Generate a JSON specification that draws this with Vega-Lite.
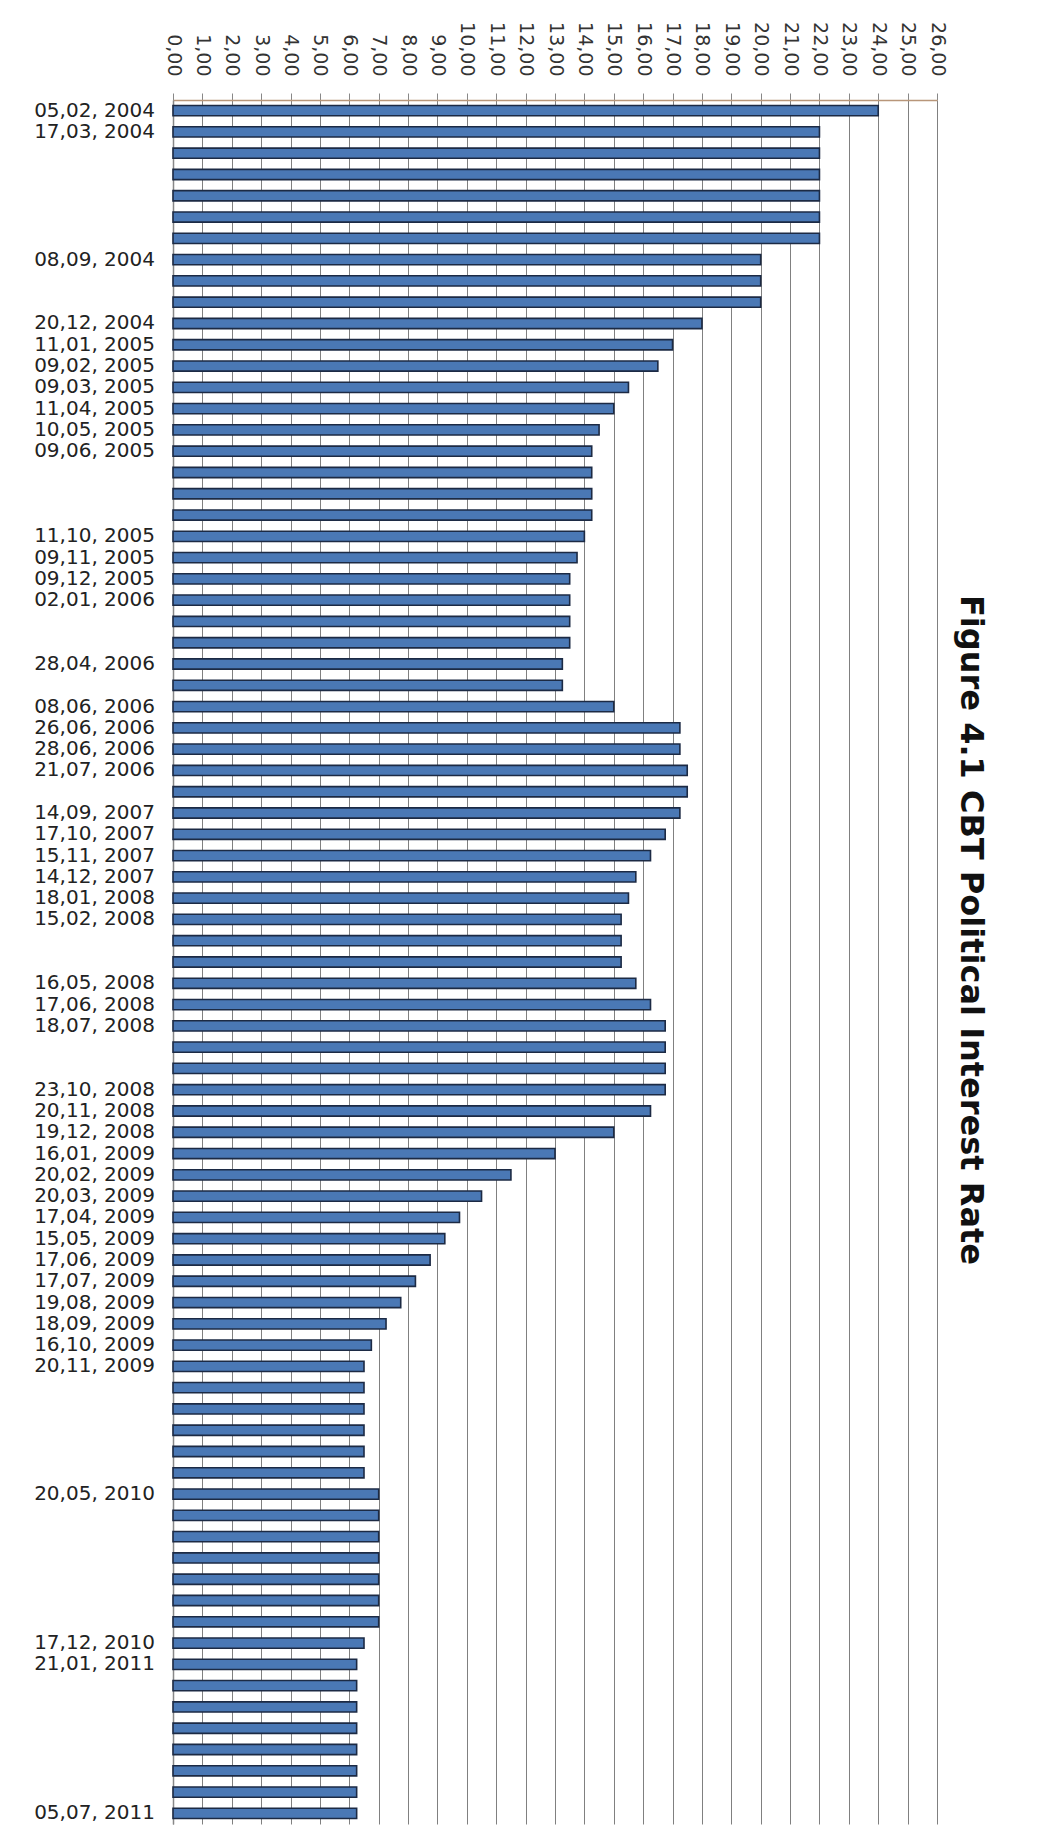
{
  "$schema": "https://vega.github.io/schema/vega-lite/v6.json",
  "width": 764,
  "height": 1724,
  "autosize": {"type": "none"},
  "padding": {"left": 173, "top": 100, "right": 117, "bottom": 21},
  "background": "white",
  "title": {
    "text": "Figure 4.1 CBT Political Interest Rate",
    "orient": "right",
    "anchor": "middle",
    "angle": 90,
    "font": "DejaVu Sans",
    "fontSize": 32,
    "fontWeight": "bold",
    "color": "#111111",
    "offset": 8,
    "dx": -32
  },
  "data": {
    "values": [
      {"n": 1, "label": "05,02, 2004", "rate": 24},
      {"n": 2, "label": "17,03, 2004", "rate": 22},
      {"n": 3, "label": "", "rate": 22},
      {"n": 4, "label": "", "rate": 22},
      {"n": 5, "label": "", "rate": 22},
      {"n": 6, "label": "", "rate": 22},
      {"n": 7, "label": "", "rate": 22},
      {"n": 8, "label": "08,09, 2004", "rate": 20},
      {"n": 9, "label": "", "rate": 20},
      {"n": 10, "label": "", "rate": 20},
      {"n": 11, "label": "20,12, 2004", "rate": 18},
      {"n": 12, "label": "11,01, 2005", "rate": 17},
      {"n": 13, "label": "09,02, 2005", "rate": 16.5},
      {"n": 14, "label": "09,03, 2005", "rate": 15.5},
      {"n": 15, "label": "11,04, 2005", "rate": 15},
      {"n": 16, "label": "10,05, 2005", "rate": 14.5},
      {"n": 17, "label": "09,06, 2005", "rate": 14.25},
      {"n": 18, "label": "", "rate": 14.25},
      {"n": 19, "label": "", "rate": 14.25},
      {"n": 20, "label": "", "rate": 14.25},
      {"n": 21, "label": "11,10, 2005", "rate": 14},
      {"n": 22, "label": "09,11, 2005", "rate": 13.75},
      {"n": 23, "label": "09,12, 2005", "rate": 13.5},
      {"n": 24, "label": "02,01, 2006", "rate": 13.5},
      {"n": 25, "label": "", "rate": 13.5},
      {"n": 26, "label": "", "rate": 13.5},
      {"n": 27, "label": "28,04, 2006", "rate": 13.25},
      {"n": 28, "label": "", "rate": 13.25},
      {"n": 29, "label": "08,06, 2006", "rate": 15},
      {"n": 30, "label": "26,06, 2006", "rate": 17.25},
      {"n": 31, "label": "28,06, 2006", "rate": 17.25},
      {"n": 32, "label": "21,07, 2006", "rate": 17.5},
      {"n": 33, "label": "", "rate": 17.5},
      {"n": 34, "label": "14,09, 2007", "rate": 17.25},
      {"n": 35, "label": "17,10, 2007", "rate": 16.75},
      {"n": 36, "label": "15,11, 2007", "rate": 16.25},
      {"n": 37, "label": "14,12, 2007", "rate": 15.75},
      {"n": 38, "label": "18,01, 2008", "rate": 15.5},
      {"n": 39, "label": "15,02, 2008", "rate": 15.25},
      {"n": 40, "label": "", "rate": 15.25},
      {"n": 41, "label": "", "rate": 15.25},
      {"n": 42, "label": "16,05, 2008", "rate": 15.75},
      {"n": 43, "label": "17,06, 2008", "rate": 16.25},
      {"n": 44, "label": "18,07, 2008", "rate": 16.75},
      {"n": 45, "label": "", "rate": 16.75},
      {"n": 46, "label": "", "rate": 16.75},
      {"n": 47, "label": "23,10, 2008", "rate": 16.75},
      {"n": 48, "label": "20,11, 2008", "rate": 16.25},
      {"n": 49, "label": "19,12, 2008", "rate": 15},
      {"n": 50, "label": "16,01, 2009", "rate": 13},
      {"n": 51, "label": "20,02, 2009", "rate": 11.5},
      {"n": 52, "label": "20,03, 2009", "rate": 10.5},
      {"n": 53, "label": "17,04, 2009", "rate": 9.75},
      {"n": 54, "label": "15,05, 2009", "rate": 9.25},
      {"n": 55, "label": "17,06, 2009", "rate": 8.75},
      {"n": 56, "label": "17,07, 2009", "rate": 8.25},
      {"n": 57, "label": "19,08, 2009", "rate": 7.75},
      {"n": 58, "label": "18,09, 2009", "rate": 7.25},
      {"n": 59, "label": "16,10, 2009", "rate": 6.75},
      {"n": 60, "label": "20,11, 2009", "rate": 6.5},
      {"n": 61, "label": "", "rate": 6.5},
      {"n": 62, "label": "", "rate": 6.5},
      {"n": 63, "label": "", "rate": 6.5},
      {"n": 64, "label": "", "rate": 6.5},
      {"n": 65, "label": "", "rate": 6.5},
      {"n": 66, "label": "20,05, 2010", "rate": 7},
      {"n": 67, "label": "", "rate": 7},
      {"n": 68, "label": "", "rate": 7},
      {"n": 69, "label": "", "rate": 7},
      {"n": 70, "label": "", "rate": 7},
      {"n": 71, "label": "", "rate": 7},
      {"n": 72, "label": "", "rate": 7},
      {"n": 73, "label": "17,12, 2010", "rate": 6.5},
      {"n": 74, "label": "21,01, 2011", "rate": 6.25},
      {"n": 75, "label": "", "rate": 6.25},
      {"n": 76, "label": "", "rate": 6.25},
      {"n": 77, "label": "", "rate": 6.25},
      {"n": 78, "label": "", "rate": 6.25},
      {"n": 79, "label": "", "rate": 6.25},
      {"n": 80, "label": "", "rate": 6.25},
      {"n": 81, "label": "05,07, 2011", "rate": 6.25}
    ]
  },
  "encoding": {
    "y": {
      "field": "n",
      "type": "ordinal",
      "scale": {"paddingInner": 0.52, "paddingOuter": 0.26},
      "axis": {
        "orient": "left",
        "title": null,
        "labels": false,
        "ticks": false,
        "domain": true,
        "domainColor": "#888888",
        "domainWidth": 1.5,
        "grid": false
      }
    }
  },
  "layer": [
    {
      "mark": {"type": "bar", "fill": "#4a78b5", "stroke": "#1c2a44", "strokeWidth": 1.6},
      "encoding": {
        "x": {
          "field": "rate",
          "type": "quantitative",
          "scale": {"domain": [0, 26], "nice": false, "zero": true},
          "axis": {
            "orient": "top",
            "title": null,
            "values": [0,1,2,3,4,5,6,7,8,9,10,11,12,13,14,15,16,17,18,19,20,21,22,23,24,25,26],
            "labelExpr": "replace(format(datum.value, '.2f'), '.', ',')",
            "labelAngle": 90,
            "labelAlign": "right",
            "labelBaseline": "middle",
            "labelPadding": 17,
            "labelFont": "DejaVu Sans",
            "labelFontSize": 19,
            "labelColor": "#333333",
            "labelOverlap": false,
            "labelFlush": false,
            "labelSeparation": 0,
            "ticks": true,
            "tickSize": 7,
            "tickColor": "#888888",
            "domain": true,
            "domainColor": "#b8967a",
            "domainWidth": 1.5,
            "grid": true,
            "gridColor": "#808080",
            "gridWidth": 1
          }
        }
      }
    },
    {
      "mark": {
        "type": "text",
        "align": "right",
        "baseline": "middle",
        "dx": -18,
        "font": "DejaVu Sans",
        "fontSize": 20,
        "color": "#222222"
      },
      "encoding": {
        "x": {
          "datum": 0,
          "type": "quantitative",
          "axis": {
            "orient": "top",
            "title": null,
            "values": [0,1,2,3,4,5,6,7,8,9,10,11,12,13,14,15,16,17,18,19,20,21,22,23,24,25,26],
            "labelExpr": "replace(format(datum.value, '.2f'), '.', ',')",
            "labelAngle": 90,
            "labelAlign": "right",
            "labelBaseline": "middle",
            "labelPadding": 17,
            "labelFont": "DejaVu Sans",
            "labelFontSize": 19,
            "labelColor": "#333333",
            "labelOverlap": false,
            "labelFlush": false,
            "labelSeparation": 0,
            "ticks": true,
            "tickSize": 7,
            "tickColor": "#888888",
            "domain": true,
            "domainColor": "#b8967a",
            "domainWidth": 1.5,
            "grid": true,
            "gridColor": "#808080",
            "gridWidth": 1
          }
        },
        "text": {"field": "label"}
      }
    }
  ],
  "config": {
    "view": {"stroke": null}
  }
}
